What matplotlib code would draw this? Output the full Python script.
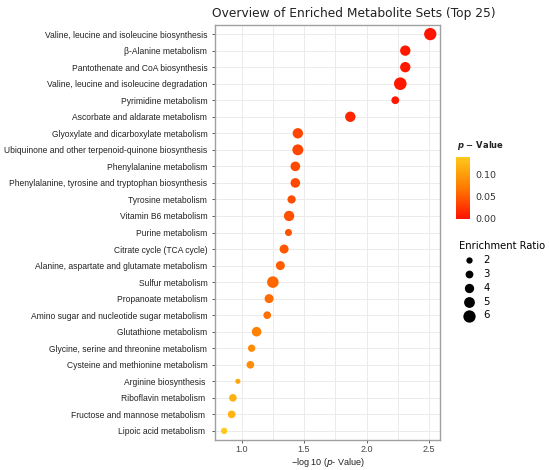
import numpy as np
import matplotlib
matplotlib.use('Agg')
from matplotlib import pyplot as plt
from matplotlib.colors import LinearSegmentedColormap, Normalize

pathways = ['Valine, leucine and isoleucine biosynthesis', 'β-Alanine metabolism',
            'Pantothenate and CoA biosynthesis', 'Valine, leucine and isoleucine degradation',
            'Pyrimidine metabolism', 'Ascorbate and aldarate metabolism',
            'Glyoxylate and dicarboxylate metabolism',
            'Ubiquinone and other terpenoid-quinone biosynthesis', 'Phenylalanine metabolism',
            'Phenylalanine, tyrosine and tryptophan biosynthesis', 'Tyrosine metabolism',
            'Vitamin B6 metabolism', 'Purine metabolism', 'Citrate cycle (TCA cycle)',
            'Alanine, aspartate and glutamate metabolism', 'Sulfur metabolism',
            'Propanoate metabolism', 'Amino sugar and nucleotide sugar metabolism',
            'Glutathione metabolism', 'Glycine, serine and threonine metabolism',
            'Cysteine and methionine metabolism', 'Arginine biosynthesis ',
            'Riboflavin metabolism ', 'Fructose and mannose metabolism ',
            'Lipoic acid metabolism ']
neg_log_p = [2.51, 2.31, 2.31, 2.27, 2.23, 1.87, 1.45, 1.45, 1.43, 1.43, 1.40, 1.38, 1.375,
             1.34, 1.31, 1.25, 1.22, 1.205, 1.12, 1.08, 1.07, 0.97, 0.93, 0.92, 0.86]
enrich = [6.0, 4.7, 4.7, 6.2, 3.0, 4.7, 4.7, 5.1, 4.2, 4.2, 3.3, 4.7, 2.5,
          3.8, 3.8, 5.5, 3.8, 2.9, 4.2, 2.7, 2.9, 1.2, 2.9, 2.9, 2.0]
legend_ratios = [2, 3, 4, 5, 6]

pvals = 10 ** (-np.array(neg_log_p))
cmap = LinearSegmentedColormap.from_list('pv', ['#FF1000', '#FF7A00', '#FFC81A'])
norm = Normalize(vmin=0, vmax=pvals.max())

def ratio_to_s(r):
    d_px = 6.3 + 1.5 * (np.asarray(r) - 2)
    return (d_px * 72 / 100) ** 2

plt.rcParams['font.family'] = ['DejaVu Sans']
lab_font = 'Liberation Sans'
fig = plt.figure(figsize=(5.5, 4.7), dpi=100)
ax = fig.add_axes([215/550, 1-440/470, 225/550, 415/470])

y = np.arange(len(pathways))
ax.scatter(neg_log_p, y, s=ratio_to_s(enrich), c=pvals, cmap=cmap, norm=norm,
           linewidths=0, zorder=3)
ax.set_ylim(len(pathways) - 0.45, -0.55)
ax.set_xlim(0.787, 2.588)
ax.set_yticks(y)
ax.set_yticklabels(pathways, fontsize=6.15, color='#222222', family=lab_font)
ax.set_xticks([1.0, 1.5, 2.0, 2.5])
ax.set_xticklabels(['1.0', '1.5', '2.0', '2.5'], family=lab_font)
ax.set_xticks([1.25, 1.75, 2.25], minor=True)
ax.tick_params(axis='x', labelsize=6.5, colors='#444444', length=2.0, width=0.6, pad=1.5)
ax.tick_params(axis='x', which='minor', length=0)
ax.tick_params(axis='y', length=2.5, width=0.6, colors='#444444', pad=3)
for lab in ax.get_yticklabels():
    lab.set_color('#222222')
ax.grid(True, which='both', color='#EBEBEB', linewidth=0.7, zorder=0)
ax.set_axisbelow(True)
for sp in ax.spines.values():
    sp.set_color('#A0A0A0')
    sp.set_linewidth(1.0)
ax.set_xlabel('−log 10 ($\\it{p}$- Value)', fontsize=6.5, color='#222222', labelpad=1.5,
              family=lab_font)
fig.text(354/550, 1-14/470, 'Overview of Enriched Metabolite Sets (Top 25)',
         ha='center', va='center', fontsize=8.8, color='#222222')

# colour bar
cax = fig.add_axes([456/550, 1-219/470, 14/550, 62/470])
sm = plt.cm.ScalarMappable(cmap=cmap, norm=norm)
cb = fig.colorbar(sm, cax=cax)
cb.outline.set_visible(False)
cb.set_ticks([0.0, 0.05, 0.10])
cb.set_ticklabels(['0.00', '0.05', '0.10'])
cax.tick_params(labelsize=6.8, length=0, pad=4, colors='#333333')
fig.text(457/550, 1-146/470, '$\\boldsymbol{p}$ − Value', fontsize=6, fontweight='bold',
         ha='left', va='center', color='#222222')

# size legend
handles = [ax.scatter([], [], s=ratio_to_s(r), color='black', linewidths=0)
           for r in legend_ratios]
fig.legend(handles, [str(r) for r in legend_ratios], title='Enrichment Ratio',
           loc='upper left', bbox_to_anchor=(452/550, 1-234/470), frameon=False,
           fontsize=7.3, title_fontsize=7.2, labelspacing=0.38, handletextpad=0.4,
           borderpad=0.2, alignment='left')

fig.savefig('out.png', dpi=100)
